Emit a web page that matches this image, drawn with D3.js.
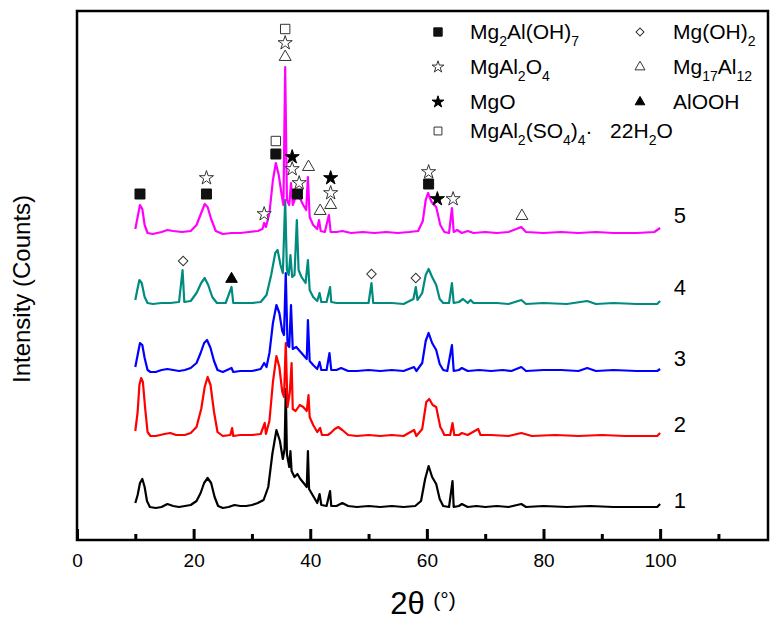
<!DOCTYPE html>
<html>
<head>
<meta charset="utf-8">
<script src="https://cdn.jsdelivr.net/npm/d3@7"></script>
<style>
  body { margin: 0; background: #fff; }
  text { font-family: "Liberation Sans", Arial, sans-serif; fill: #000; }
</style>
</head>
<body>
<svg id="chart" width="781" height="622"></svg>
<script>
// XRD patterns: [2theta, intensity above own baseline]
var trace1 = [[10,6],[10.4,14],[10.8,26],[11.2,30],[11.6,22],[12.0,8],[12.5,2],[13.5,1],[14.5,2],[15.5,5],[16.5,3],[17.5,2],[18.5,3],[19.5,4],[20.5,8],[21.2,16],[21.8,26],[22.4,31],[23.0,26],[23.6,12],[24.2,3],[25,1],[26,2],[27,4],[28,3],[29,3],[30,4],[31,6],[32,9],[32.8,22],[33.5,55],[34.2,79],[34.8,68],[35.3,50],[35.6,60],[35.8,120],[36.0,55],[36.4,42],[36.6,58],[36.8,38],[37.3,32],[37.8,35],[38.3,30],[39.0,25],[39.4,22],[39.6,58],[39.8,20],[40.5,13],[41.2,6],[41.6,15],[41.9,4],[42.8,3],[43.4,18],[43.6,3],[44.5,3],[45.5,6],[46.5,3],[48,2],[50,3],[52,2],[54,3],[56,2],[58,3],[59,8],[59.7,30],[60.3,43],[60.9,32],[61.6,25],[62.2,10],[62.8,3],[63.8,2],[64.4,28],[64.6,2],[65.5,3],[66,5],[67,2],[68.5,3],[70,2],[72,3],[74,2],[76.2,5],[77,2],[80,3],[84,2],[88,3],[92,2],[96,2],[99.5,2],[100,5]];
var trace2 = [[10,6],[10.4,25],[10.7,52],[11.0,59],[11.3,55],[11.7,28],[12.1,5],[12.6,1],[13.5,1],[15,3],[16,4],[17,2],[18.5,2],[19.5,4],[20.5,10],[21.3,28],[21.9,50],[22.4,60],[22.9,52],[23.5,25],[24.1,5],[25,1],[26.3,2],[26.6,9],[26.8,1],[28,2],[30,2],[31.5,3],[32.2,14],[32.4,3],[33,16],[33.6,55],[34.2,81],[34.7,70],[35.2,45],[35.5,40],[35.8,94],[36.1,30],[36.5,45],[36.8,74],[37.0,28],[37.5,26],[38.2,32],[38.8,30],[39.4,26],[39.7,42],[39.9,20],[40.5,12],[41.2,5],[41.7,9],[42,2],[43,2],[43.5,4],[44.2,8],[44.8,10],[45.5,7],[46.5,2],[48,1],[50,2],[52,1],[54,2],[56,1],[57.8,7],[58.2,1],[59.2,8],[59.9,35],[60.4,38],[61,32],[61.6,30],[62.3,10],[62.6,7],[63,2],[64,2],[64.4,14],[64.7,2],[65.5,2],[66,4],[67,2],[68.8,8],[69.2,2],[71,2],[74,1],[76.2,4],[78,1],[82,2],[86,1],[90,2],[94,1],[99.5,1],[100,4]];
var trace3 = [[10,6],[10.4,18],[10.8,30],[11.2,28],[11.6,15],[12.1,3],[12.6,1],[13.5,1],[14.5,3],[15.5,4],[16.5,3],[17.5,2],[18.5,3],[19.5,5],[20.5,10],[21.2,20],[21.8,30],[22.3,33],[22.9,25],[23.5,12],[24.1,3],[25,1],[26.5,5],[26.8,1],[28,2],[30,2],[31.5,4],[32.1,10],[32.5,6],[33,20],[33.6,50],[34.2,68],[34.7,60],[35.2,42],[35.5,38],[35.8,100],[36.1,28],[36.4,26],[36.7,68],[37.0,24],[37.6,26],[38.2,22],[38.8,18],[39.4,14],[39.6,53],[39.9,12],[40.5,8],[41.2,4],[41.6,11],[41.9,3],[42.8,3],[43.3,20],[43.6,3],[44.5,3],[45.3,5],[46.5,2],[48,2],[50,3],[52,2],[54,3],[56,2],[57.8,6],[58.2,2],[59.2,10],[59.8,32],[60.3,40],[60.9,30],[61.6,23],[62.2,9],[62.8,3],[63.5,2],[64.3,28],[64.6,2],[65.5,3],[66,5],[67,2],[69,3],[71,2],[73,3],[74.5,2],[76.2,6],[77,2],[80,3],[83,3],[86,2],[87.5,5],[89,2],[92,3],[96,2],[99.5,2],[100,4]];
var trace4 = [[10,5],[10.3,14],[10.7,25],[11.1,22],[11.6,8],[12.1,2],[13,1],[14.5,2],[16,2],[17.5,3],[18.1,35],[18.4,3],[19.5,4],[20.5,12],[21.3,22],[21.9,27],[22.5,20],[23.2,8],[24,2],[25.5,2],[26.5,18],[26.8,2],[28,2],[30,2],[31.5,3],[32.5,10],[33.3,30],[34.0,52],[34.4,55],[34.9,40],[35.3,32],[35.7,105],[36.0,35],[36.3,30],[36.6,50],[36.9,28],[37.3,30],[37.7,85],[38.0,35],[38.5,28],[39.2,22],[39.6,45],[39.9,15],[40.5,8],[41.2,4],[41.6,12],[41.9,3],[42.8,3],[43.4,18],[43.6,3],[44.5,2],[46,2],[48,2],[50,2],[50.5,22],[50.8,2],[52,2],[54,2],[56,1],[57.7,6],[58.1,18],[58.4,5],[59.2,12],[59.8,30],[60.3,36],[60.9,28],[61.6,20],[62.2,6],[62.8,2],[63.8,2],[64.3,22],[64.6,2],[65.5,3],[66.2,6],[67,2],[67.5,5],[68,2],[70,2],[72,2],[74,1],[76.2,5],[77,1],[80,2],[84,1],[87.5,4],[89,1],[92,2],[96,1],[99.5,1],[100,4]];
var trace5 = [[10,6],[10.4,18],[10.8,30],[11.2,26],[11.6,10],[12.1,2],[13,1],[14.5,3],[15.5,5],[16.5,4],[18,3],[19.5,4],[20.5,10],[21.3,22],[21.9,31],[22.4,28],[23,16],[23.8,4],[25,1],[26.5,2],[28,2],[29.5,3],[31,4],[31.8,6],[32.1,12],[32.4,8],[33,22],[33.6,55],[34.1,72],[34.6,60],[35.1,40],[35.4,30],[35.7,168],[36.0,35],[36.4,30],[36.7,52],[37.0,30],[37.5,38],[37.8,42],[38.3,36],[38.8,30],[39.3,25],[39.6,58],[39.9,18],[40.5,10],[41.2,6],[41.5,15],[41.8,4],[42.5,3],[43.2,20],[43.5,3],[44.5,3],[45.5,4],[47,2],[49,3],[51,2],[53,3],[55,2],[57,3],[58.5,4],[59.3,14],[59.8,35],[60.2,42],[60.8,33],[61.6,28],[62.3,10],[63,3],[63.8,2],[64.3,27],[64.6,3],[65.2,5],[66,2],[67,4],[68,2],[70,3],[72,2],[74,3],[76.2,8],[77,3],[80,2],[83,3],[86,2],[89,3],[92,2],[96,2],[99,3],[100,7]];

var traces = [trace1, trace2, trace3, trace4, trace5];
var traceNames = ["1", "2", "3", "4", "5"];
var traceOffsets = [31, 103, 167, 235, 305];
var traceColors = ["#000000", "#ff0000", "#0000ff", "#008b80", "#ff00ff"];
var nameLevels = [9, 13, 15, 18, 20];

// phase markers: [phase, 2theta, trace index, level above that trace's baseline]
var markers = [
  ["hyd", 10.8, 4, 41], ["hyd", 22.2, 4, 41], ["spn", 22.2, 4, 57],
  ["spn", 32.1, 4, 21], ["hyd", 34.1, 4, 81], ["sul", 34.1, 4, 94],
  ["mal", 35.7, 4, 178], ["spn", 35.7, 4, 192], ["sul", 35.7, 4, 206],
  ["mgo", 36.9, 4, 78], ["spn", 36.9, 4, 66], ["hyd", 37.8, 4, 41], ["spn", 38.1, 4, 52],
  ["mal", 39.7, 4, 68], ["mal", 41.7, 4, 24],
  ["mgo", 43.5, 4, 57], ["spn", 43.5, 4, 42], ["mal", 43.5, 4, 30],
  ["spn", 60.3, 4, 63], ["hyd", 60.3, 4, 51], ["mgo", 61.8, 4, 36],
  ["spn", 64.5, 4, 36], ["mal", 76.3, 4, 19],
  ["brc", 18.2, 3, 44], ["boe", 26.5, 3, 26], ["brc", 50.5, 3, 31], ["brc", 58.1, 3, 27]
];

var legendPhases = ["hyd", "spn", "mgo", "sul", "brc", "mal", "boe"];
// label pieces: [text, subscript?]
var legendLabels = [
  [["Mg", 0], ["2", 1], ["Al(OH)", 0], ["7", 1]],
  [["MgAl", 0], ["2", 1], ["O", 0], ["4", 1]],
  [["MgO", 0]],
  [["MgAl", 0], ["2", 1], ["(SO", 0], ["4", 1], [")", 0], ["4", 1], ["\u00b7\u00a0\u00a0 22H", 0], ["2", 1], ["O", 0]],
  [["Mg(OH)", 0], ["2", 1]],
  [["Mg", 0], ["17", 1], ["Al", 0], ["12", 1]],
  [["AlOOH", 0]]
];

var xMajor = [0, 20, 40, 60, 80, 100];
var xMinor = [10, 30, 50, 70, 90, 110];

var svg = d3.select("#chart");
var plotLeft = 77, plotRight = 768, plotTop = 11, plotBottom = 540;

var x = d3.scaleLinear().domain([0, 118.5]).range([plotLeft, plotRight]);
var y = d3.scaleLinear().domain([0, 529]).range([plotBottom, plotTop]);

// symbol shapes
var symbolStyle = {
  hyd: { type: d3.symbolSquare, fill: "#111", size: 100, rot: 0 },
  spn: { type: d3.symbolStar, fill: "#fff", size: 62, rot: 0 },
  mgo: { type: d3.symbolStar, fill: "#000", size: 62, rot: 0 },
  sul: { type: d3.symbolSquare, fill: "#fff", size: 88, rot: 0 },
  brc: { type: d3.symbolSquare, fill: "#fff", size: 45, rot: 45 },
  mal: { type: d3.symbolTriangle, fill: "#fff", size: 62, rot: 0 },
  boe: { type: d3.symbolTriangle, fill: "#000", size: 58, rot: 0 }
};

function drawSymbol(g, phase, px, py, scale) {
  var s = symbolStyle[phase];
  g.append("path")
    .attr("d", d3.symbol().type(s.type).size(s.size * scale)())
    .attr("transform", "translate(" + px + "," + py + ") rotate(" + s.rot + ")")
    .attr("fill", s.fill)
    .attr("stroke", s.fill === "#fff" ? "#333" : s.fill)
    .attr("stroke-width", 1);
}

// traces
var line = d3.line()
  .x(function(d) { return x(d[0]); })
  .y(function(d) { return y(d[1]); });

traces.forEach(function(t, i) {
  var off = traceOffsets[i];
  svg.append("path")
    .datum(t.map(function(d) { return [d[0], d[1] + off]; }))
    .attr("d", line)
    .attr("fill", "none")
    .attr("stroke", traceColors[i])
    .attr("stroke-width", 2.2)
    .attr("stroke-linejoin", "round");

  svg.append("text")
    .attr("x", x(103.4))
    .attr("y", y(off + nameLevels[i]))
    .attr("dy", "0.35em")
    .attr("text-anchor", "middle")
    .attr("font-size", 22)
    .text(traceNames[i]);
});

// phase markers
var mg = svg.append("g");
markers.forEach(function(m) {
  drawSymbol(mg, m[0], x(m[1]), y(traceOffsets[m[2]] + m[3]), 1);
});

// frame
svg.append("rect")
  .attr("x", plotLeft).attr("y", plotTop)
  .attr("width", plotRight - plotLeft).attr("height", plotBottom - plotTop)
  .attr("fill", "none").attr("stroke", "#000").attr("stroke-width", 2.5);

// bottom axis, ticks pointing in
svg.append("g")
  .attr("transform", "translate(0," + plotBottom + ")")
  .call(d3.axisBottom(x).tickValues(xMinor).tickSize(-6).tickFormat(""));
var majorAxis = svg.append("g")
  .attr("transform", "translate(0," + plotBottom + ")")
  .call(d3.axisBottom(x).tickValues(xMajor).tickSize(-11).tickPadding(14).tickFormat(d3.format("d")));
svg.selectAll(".domain").remove();
svg.selectAll(".tick line").attr("stroke", "#000").attr("stroke-width", 3);
majorAxis.selectAll("text")
  .attr("font-size", 19)
  .attr("font-family", "'Liberation Sans', Arial, sans-serif")
  .attr("fill", "#000");

// axis titles
var xt = svg.append("text")
  .attr("x", 423).attr("y", 614)
  .attr("text-anchor", "middle");
xt.append("tspan").attr("font-size", 31).text("2\u03b8 ");
xt.append("tspan").attr("font-size", 21).attr("dy", -7).text("(\u00b0)");

svg.append("text")
  .attr("transform", "translate(30,289) rotate(-90)")
  .attr("text-anchor", "middle")
  .attr("font-size", 24)
  .text("Intensity (Counts)");

// legend
var legendX = [438, 640];
var legendTextX = [470, 673];
var legendRowY = [32, 67, 102, 131];
var lg = svg.append("g");
legendPhases.forEach(function(p, i) {
  var col = i < 4 ? 0 : 1;
  var row = i < 4 ? i : i - 4;
  var ly = legendRowY[row];
  drawSymbol(lg, p, legendX[col], ly, 0.7);
  var t = lg.append("text")
    .attr("x", legendTextX[col])
    .attr("y", ly + 7)
    .attr("font-size", 21);
  var down = false;
  legendLabels[i].forEach(function(piece) {
    var ts = t.append("tspan").text(piece[0]);
    if (piece[1]) {
      ts.attr("font-size", 14).attr("dy", down ? 0 : 7);
      down = true;
    } else {
      ts.attr("dy", down ? -7 : 0);
      down = false;
    }
  });
});
</script>
</body>
</html>
